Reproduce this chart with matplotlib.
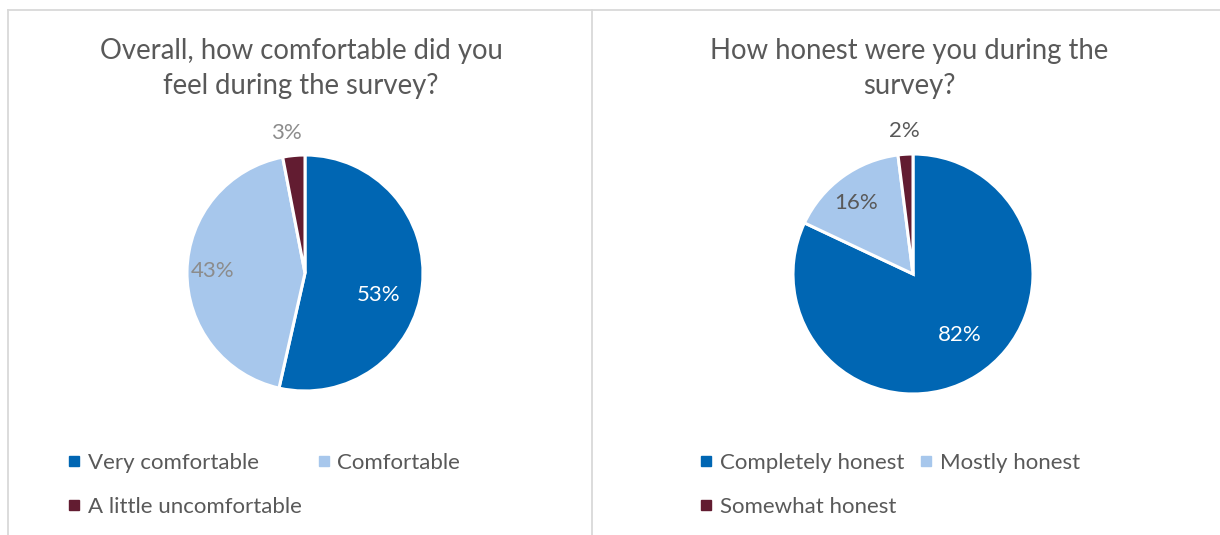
import matplotlib.pyplot as plt
from matplotlib.lines import Line2D

plt.rcParams['font.family'] = ['Lato', 'DejaVu Sans']

# survey answers, percentages
comfort_labels = ["Very comfortable", "Comfortable", "A little uncomfortable"]
comfort_values = [53, 43, 3]
honest_labels = ["Completely honest", "Mostly honest", "Somewhat honest"]
honest_values = [82, 16, 2]

titles = ["Overall, how comfortable did you\nfeel during the survey?",
          "How honest were you during the\nsurvey?"]

colors = ["#0066B3", "#A7C7EC", "#621C31"]
text_col = "#595959"

W, H = 1220, 535
fig = plt.figure(figsize=(W / 100, H / 100), dpi=100)


def px_axes(cx, cy, r):
    # axes box in pixels (origin top-left) around a pie of radius r
    return fig.add_axes([(cx - r) / W, (H - cy - r) / H, 2 * r / W, 2 * r / H])


# panel frames
frame = dict(color="#D9D9D9", lw=1.3, transform=fig.transFigure)
fig.add_artist(Line2D([8 / W, 1], [1 - 10 / H] * 2, **frame))
fig.add_artist(Line2D([8 / W] * 2, [0, 1 - 10 / H], **frame))
fig.add_artist(Line2D([592 / W] * 2, [0, 1 - 10 / H], **frame))

panels = [
    dict(values=comfort_values, labels=comfort_labels, title=titles[0],
         center=(305, 273), r=118, title_x=301, legend_x=68,
         lbl_pos=[(0.62, -0.19), (-0.78, 0.02), (-0.16, 1.19)],
         lbl_col=["white", "#8C8C8C", "#8C8C8C"]),
    dict(values=honest_values, labels=honest_labels, title=titles[1],
         center=(913, 274), r=120, title_x=909, legend_x=700,
         lbl_pos=[(0.39, -0.51), (-0.475, 0.59), (-0.075, 1.19)],
         lbl_col=["white", text_col, text_col]),
]

for p in panels:
    cx, cy = p["center"]
    ax = px_axes(cx, cy, p["r"])
    ax.pie(p["values"], colors=colors, startangle=90, counterclock=False,
           wedgeprops=dict(edgecolor="white", linewidth=2.2))
    ax.set_xlim(-1, 1)
    ax.set_ylim(-1, 1)
    ax.set_aspect("equal")
    ax.axis("off")
    for v, (lx, ly), c in zip(p["values"], p["lbl_pos"], p["lbl_col"]):
        ax.text(lx, ly, f"{v}%", ha="center", va="center", fontsize=16,
                color=c, clip_on=False)

    fig.text(p["title_x"] / W, 1 - 68.5 / H, p["title"], ha="center",
             va="center", fontsize=19.8, color=text_col, linespacing=1.42)

    # legend filled row by row: first, third in column one, second in column two
    order = [0, 2, 1]
    handles = [Line2D([], [], marker="s", ls="none", markersize=6.5,
                      color=colors[i]) for i in order]
    fig.legend(handles, [p["labels"][i] for i in order], ncol=2,
               loc="upper left", bbox_to_anchor=(p["legend_x"] / W, 1 - 453 / H),
               frameon=False, fontsize=16, labelcolor=text_col,
               handlelength=0.55, handletextpad=0.35, columnspacing=0.7,
               labelspacing=1.08, borderaxespad=0, borderpad=0)

fig.savefig("out.png", dpi=100, facecolor="white")
